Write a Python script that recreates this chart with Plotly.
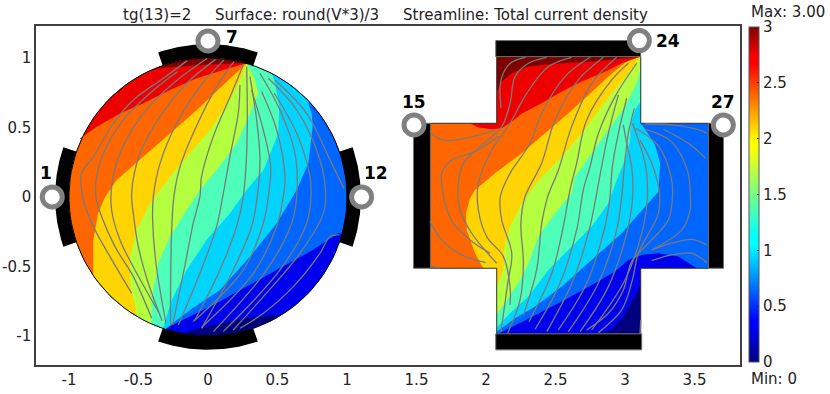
import numpy as np
import plotly.graph_objects as go

X_TICKS = [-1, -0.5, 0, 0.5, 1, 1.5, 2, 2.5, 3, 3.5]
X_TICK_TEXT = ["-1", "-0.5", "0", "0.5", "1", "1.5", "2", "2.5", "3", "3.5"]
Y_TICKS = [-1, -0.5, 0, 0.5, 1]
Y_TICK_TEXT = ["-1", "-0.5", "0", "0.5", "1"]
CB_TICKS = [0, 0.5, 1, 1.5, 2, 2.5, 3]
CB_TEXT = ["0", "0.5", "1", "1.5", "2", "2.5", "3"]

LEVEL_COLORS = ["#00007f", "#0000ee", "#0066ff", "#00d4ff", "#4dffb8", "#b3ff40", "#ffd400", "#ff6600", "#ee0000", "#7f0000"]
JET = [[0, "#00007f"], [0.11, "#0000ff"], [0.125, "#0000ff"], [0.35, "#00ffff"], [0.375, "#00ffff"],
       [0.64, "#ffff00"], [0.66, "#ffff00"], [0.89, "#ff0000"], [0.91, "#ff0000"], [1, "#7f0000"]]

# ---- iso-level boundaries on the disc (level 1/3 ... 3)
APEX_T = (0.278, 0.962)
APEX_B = (-0.30, -0.945)
DISC_1 = [(-0.153, -0.969), (0.038, -0.921), (0.206, -0.885), (0.35, -0.861), (0.494, -0.849)]
DISC_2 = [APEX_B, (-0.153, -0.873), (0.062, -0.765), (0.278, -0.645), (0.518, -0.513), (0.758, -0.38), (0.938, -0.26)]
DISC_3 = [APEX_B, (-0.13, -0.813), (0.086, -0.669), (0.302, -0.43), (0.494, -0.19), (0.638, 0.05), (0.722, 0.242),
          (0.753, 0.506), (0.746, 0.60), (0.722, 0.674)]
DISC_4 = [(-0.32, -0.93), (-0.26, -0.74), (-0.153, -0.525), (-0.01, -0.31), (0.158, -0.117), (0.278, 0.05), (0.40, 0.194),
          (0.506, 0.458), (0.513, 0.65), (0.482, 0.818), (0.46, 0.888)]
DISC_5 = [(-0.405, -0.92), (-0.405, -0.717), (-0.357, -0.477), (-0.273, -0.285), (-0.153, -0.094), (-0.058, 0.05),
          (0.062, 0.194), (0.206, 0.386), (0.302, 0.60), (0.362, 0.746), (0.33, 0.866), APEX_T]
DISC_6 = [(-0.513, -0.837), (-0.56, -0.62), (-0.56, -0.43), (-0.513, -0.237), (-0.417, -0.046), (-0.273, 0.146),
          (-0.13, 0.314), (0.014, 0.482), (0.158, 0.698), (0.23, 0.84), APEX_T]
DISC_7 = [(-0.825, -0.55), (-0.825, -0.31), (-0.79, -0.117), (-0.74, 0.0), (-0.657, 0.122), (-0.49, 0.266),
          (-0.273, 0.458), (-0.08, 0.626), (0.11, 0.806), APEX_T]
DISC_8 = [(-0.92, 0.42), (-0.80, 0.506), (-0.633, 0.60), (-0.465, 0.674), (-0.273, 0.77), (-0.08, 0.854), (0.11, 0.914), APEX_T]
DISC_9 = [(-0.357, 0.926), (-0.20, 0.94), (-0.03, 0.95), (0.16, 0.96), APEX_T]
DISC_LEVELS = [DISC_1, DISC_2, DISC_3, DISC_4, DISC_5, DISC_6, DISC_7, DISC_8, DISC_9]

# ---- iso-level boundaries on the cross
CROSS_XS = [1.6, 2.077, 3.113, 3.6]
CROSS_YS = [-0.985, -0.513, 0.53, 1.01]
CROSS_APEX = (3.113, 1.01)
CROSS_1 = [(2.796, -0.985), (2.904, -0.957), (2.988, -0.861), (3.048, -0.753), (3.113, -0.633)]
CROSS_2 = [(2.09, -0.985), (2.305, -0.873), (2.545, -0.753), (2.784, -0.621), (2.928, -0.537), (3.024, -0.453),
           (3.12, -0.417), (3.24, -0.405), (3.384, -0.429), (3.515, -0.513)]
CROSS_3 = [(2.077, -0.969), (2.209, -0.873), (2.353, -0.789), (2.545, -0.645), (2.76, -0.453), (2.976, -0.261),
           (3.144, -0.07), (3.24, 0.038), (3.252, 0.242), (3.216, 0.374), (3.156, 0.47), (3.113, 0.53)]
CROSS_4 = [(2.077, -0.938), (2.185, -0.825), (2.305, -0.717), (2.449, -0.525), (2.593, -0.381), (2.76, -0.213),
           (2.88, -0.046), (2.94, 0.122), (3.0, 0.266), (3.036, 0.41), (3.043, 0.53), (3.072, 0.626), (3.113, 0.686)]
CROSS_5 = [(2.077, -0.849), (2.16, -0.729), (2.232, -0.621), (2.305, -0.477), (2.377, -0.285), (2.497, -0.118),
           (2.617, 0.026), (2.64, 0.146), (2.76, 0.314), (2.88, 0.482), (3.0, 0.65), (3.084, 0.818), (3.113, 0.914)]
CROSS_6 = [(2.077, -0.645), (2.125, -0.525), (2.132, -0.357), (2.173, -0.213), (2.269, -0.022), (2.40, 0.146),
           (2.545, 0.29), (2.689, 0.458), (2.809, 0.626), (2.928, 0.77), (3.024, 0.89), CROSS_APEX]
CROSS_7 = [(1.98, -0.513), (1.921, -0.405), (1.861, -0.237), (1.856, -0.118), (1.885, -0.01), (1.921, 0.05), (2.065, 0.17),
           (2.257, 0.314), (2.425, 0.458), (2.593, 0.602), (2.737, 0.734), (2.881, 0.866), (3.024, 0.986), CROSS_APEX]
CROSS_8 = [(1.885, 0.53), (1.945, 0.50), (2.04, 0.487), (2.113, 0.494), (2.185, 0.542), (2.257, 0.60), (2.40, 0.674),
           (2.545, 0.758), (2.689, 0.83), (2.833, 0.89), (2.977, 0.962), CROSS_APEX]
CROSS_9 = [(2.077, 0.758), (2.113, 0.83), (2.185, 0.89), (2.305, 0.938), (2.545, 0.962), (2.785, 0.974), CROSS_APEX]
CROSS_LEVELS = [
    (CROSS_1, [(3.6, -0.633), (3.6, 1.01), (1.6, 1.01), (1.6, -0.985)]),
    (CROSS_2, [(3.6, -0.513), (3.6, 1.01), (1.6, 1.01), (1.6, -0.985)]),
    (CROSS_3, [CROSS_APEX, (1.6, 1.01), (1.6, -0.969)]),
    (CROSS_4, [CROSS_APEX, (1.6, 1.01), (1.6, -0.938)]),
    (CROSS_5, [CROSS_APEX, (1.6, 1.01), (1.6, -0.849)]),
    (CROSS_6, [(1.6, 1.01), (1.6, -0.645)]),
    (CROSS_7, [(1.6, 1.01), (1.6, -0.513)]),
    (CROSS_8, [(1.885, 1.01)]),
    (CROSS_9, [(2.077, 1.01)]),
]

# ---- streamlines on the disc
DISC_STREAMS = [
    [(-.149, .981), (-.321, .854), (-.537, .698), (-.681, .53), (-.825, .29), (-.909, .17), (-.909, .05), (-.897, -.022), (-.825, -.213), (-.705, -.429), (-.549, -.693)],
    [(-.218, .902), (-.417, .746), (-.609, .554), (-.741, .338), (-.801, .146), (-.806, .002), (-.765, -.141), (-.669, -.357), (-.537, -.573), (-.405, -.873)],
    [(-.005, .998), (-.249, .818), (-.465, .602), (-.633, .314), (-.693, .074), (-.693, -.094), (-.633, -.309), (-.525, -.525), (-.357, -.825)],
    [(.055, .99), (-.153, .818), (-.345, .578), (-.489, .314), (-.549, .026), (-.537, -.118), (-.501, -.357), (-.429, -.621), (-.33, -.89)],
    [(.115, .986), (-.058, .794), (-.225, .53), (-.345, .242), (-.393, .002), (-.398, -.165), (-.374, -.477), (-.302, -.909)],
    [(.187, .974), (.062, .794), (-.106, .458), (-.201, .218), (-.245, .002), (-.261, -.237), (-.269, -.669), (-.269, -.921)],
    [(.254, .95), (.17, .746), (.038, .434), (-.046, .146), (-.058, .002), (-.106, -.189), (-.177, -.549), (-.254, -.921)],
    [(.23, .806), (.218, .602), (.158, .29), (.106, .002), (.062, -.213), (-.058, -.549), (-.213, -.921)],
    [(.278, .938), (.283, .602), (.278, .314), (.254, .002), (.206, -.213), (.086, -.525), (-.094, -.885)],
    [(.302, .866), (.35, .554), (.374, .266), (.355, .002), (.314, -.213), (.182, -.525), (-.046, -.945)],
    [(.314, .77), (.398, .482), (.451, .218), (.434, .002), (.398, -.189), (.254, -.525), (-.106, -.897)],
    [(.386, .758), (.494, .482), (.554, .146), (.542, .002), (.494, -.213), (.326, -.549), (-.046, -.938)],
    [(.374, .89), (.518, .626), (.626, .314), (.638, .002), (.602, -.189), (.422, -.525), (.038, -.969)],
    [(.477, .746), (.638, .458), (.734, .146), (.741, .002), (.71, -.189), (.518, -.525), (.11, -.969)],
    [(.434, .854), (.638, .626), (.806, .266), (.847, .002), (.83, -.118), (.662, -.405), (.398, -.717), (.182, -.957)],
    [(.482, .842), (.71, .602), (.878, .266), (.978, .062)],
    [(.945, -.273), (.878, -.285), (.806, -.405), (.614, -.645), (.398, -.837), (.23, -.945)],
]

# ---- streamlines on the cross
CROSS_STREAMS = [
    [(1.597, .47), (1.669, .415), (1.777, .41), (1.921, .439), (2.065, .482)],
    [(2.093, .439), (1.921, .326), (1.753, .266), (1.681, .17), (1.688, .05), (1.705, -.046), (1.765, -.189), (1.885, -.309), (2.029, -.405)],
    [(2.285, 1.005), (2.173, .961), (2.108, .842), (2.108, .638)],
    [(2.436, 1.005), (2.305, .962), (2.209, .866), (2.173, .674), (2.113, .506), (1.957, .362), (1.837, .242), (1.801, .098), (1.813, -.094), (1.897, -.261), (2.077, -.477)],
    [(2.616, 1.005), (2.449, .938), (2.293, .746), (2.173, .53), (2.041, .338), (1.945, .098), (1.945, -.094), (2.005, -.285), (2.125, -.429), (2.173, -.645), (2.173, -.777)],
    [(2.748, 1.005), (2.568, .866), (2.4, .602), (2.317, .386), (2.173, .17), (2.103, .002), (2.113, -.165), (2.185, -.405), (2.156, -.621), (2.108, -.969)],
    [(2.844, 1.005), (2.664, .842), (2.496, .554), (2.4, .242), (2.281, .002), (2.251, -.189), (2.269, -.477), (2.245, -.741), (2.156, -.981)],
    [(2.94, 1.005), (2.76, .818), (2.616, .506), (2.521, .194), (2.444, .002), (2.401, -.189), (2.364, -.525), (2.269, -.849)],
    [(3.024, .962), (2.904, .842), (2.724, .554), (2.652, .242), (2.604, .05), (2.556, -.213), (2.473, -.549), (2.309, -.897)],
    [(3.084, .962), (2.928, .722), (2.809, .458), (2.748, .218), (2.7, .05), (2.652, -.237), (2.532, -.621), (2.353, -.952)],
    [(2.952, .734), (2.88, .458), (2.827, .194), (2.796, .026), (2.748, -.213), (2.628, -.597), (2.437, -.969)],
    [(3.012, .71), (2.952, .458), (2.909, .218), (2.892, .002), (2.856, -.213), (2.724, -.621), (2.52, -.957)],
    [(3.067, .638), (3.024, .458), (2.995, .218), (2.976, .002), (2.94, -.237), (2.808, -.621), (2.592, -.969)],
    [(2.988, .518), (3.012, .386), (3.048, .218), (3.055, .002), (3.024, -.213), (2.88, -.645), (2.676, -.969)],
    [(3.053, .53), (3.096, .41), (3.149, .218), (3.161, .002), (3.132, -.213), (3.0, -.597), (2.76, -.957)],
    [(3.108, .41), (3.192, .242), (3.245, .05), (3.24, -.118), (3.096, -.405), (3.053, -.597), (2.976, -.813), (2.809, -.976)],
    [(3.077, .494), (3.239, .367), (3.331, .146), (3.341, .002), (3.312, -.165), (3.168, -.333), (3.048, -.465), (2.988, -.669), (2.88, -.837), (2.724, -.957)],
    [(3.149, .487), (3.335, .398), (3.451, .182), (3.47, .002), (3.468, -.094), (3.408, -.237), (3.2, -.376)],
    [(3.276, .487), (3.455, .386), (3.58, .278)],
    [(3.144, .525), (3.343, .518), (3.532, .482), (3.588, .458)],
    [(3.192, -.381), (3.336, -.333), (3.48, -.305), (3.588, -.345)],
    [(3.192, -.458), (3.336, -.417), (3.48, -.405), (3.588, -.472)],
    [(1.597, -.177), (1.681, -.309), (1.825, -.417), (1.998, -.472)],
    [(1.604, -.496), (1.669, -.513)],
    [(3.113, -.885), (3.108, -.985)],
]

# ---- electrodes and terminals
DISC_ELECTRODE_ANGLES = [90, 0, 180, 270]
ELECTRODE_HALF_DEG = 19
ELECTRODE_R = 1.10
CROSS_ELECTRODES = [
    (2.07, 3.113, 1.01, 1.125),
    (2.07, 3.12, -1.10, -0.985),
    (1.478, 1.6, -0.513, 0.53),
    (3.6, 3.708, -0.513, 0.53),
]
TERMINAL_NAMES = ["1", "7", "12", "15", "24", "27"]
TERMINAL_X = [-1.12, 0.0, 1.105, 1.482, 3.103, 3.707]
TERMINAL_Y = [0.0, 1.122, 0.0, 0.518, 1.125, 0.518]
TERMINAL_LABEL_X = [-1.165, 0.173, 1.209, 1.482, 3.309, 3.705]
TERMINAL_LABEL_Y = [0.173, 1.151, 0.173, 0.683, 1.122, 0.683]

FONT = "DejaVu Sans"
L, R, T, B = 36, 90, 26, 29
W, H = 830, 394


def poly(xs, ys, color, line=None):
    return go.Scatter(x=list(xs), y=list(ys), mode="lines", fill="toself", fillcolor=color,
                      line=dict(width=line[1], color=line[0]) if line else dict(width=0, color=color),
                      hoverinfo="skip", showlegend=False)


def rect(x0, x1, y0, y1, color, line=None):
    return poly([x0, x1, x1, x0, x0], [y0, y0, y1, y1, y0], color, line)


def arc(a0, a1, r=1.0):
    t = np.radians(np.linspace(a0, a1, 120))
    return r * np.cos(t), r * np.sin(t)


fig = go.Figure()

# disc electrodes
for ang in DISC_ELECTRODE_ANGLES:
    ox, oy = arc(ang - ELECTRODE_HALF_DEG, ang + ELECTRODE_HALF_DEG, ELECTRODE_R)
    ix, iy = arc(ang + ELECTRODE_HALF_DEG, ang - ELECTRODE_HALF_DEG, 0.98)
    fig.add_trace(poly(np.r_[ox, ix, ox[0]], np.r_[oy, iy, oy[0]], "#000000"))

# disc bands, painted low to high
cx, cy = arc(0, 360)
fig.add_trace(poly(cx, cy, LEVEL_COLORS[0]))
for lev, curve in enumerate(DISC_LEVELS, start=1):
    px = [p[0] for p in curve]
    py = [p[1] for p in curve]
    a_end = np.degrees(np.arctan2(py[-1], px[-1]))
    a_start = np.degrees(np.arctan2(py[0], px[0]))
    if a_start < a_end:
        a_start += 360
    ax, ay = arc(a_end, a_start)
    fig.add_trace(poly(np.r_[px, ax, px[0]], np.r_[py, ay, py[0]], LEVEL_COLORS[lev]))
fig.add_trace(go.Scatter(x=cx, y=cy, mode="lines", line=dict(color="#000000", width=1),
                         hoverinfo="skip", showlegend=False))

# cross bands, painted low to high
fig.add_trace(rect(CROSS_XS[0], CROSS_XS[3], CROSS_YS[0], CROSS_YS[3], LEVEL_COLORS[0]))
for lev, (curve, closing) in enumerate(CROSS_LEVELS, start=1):
    pts = list(curve) + list(closing) + [curve[0]]
    fig.add_trace(poly([p[0] for p in pts], [p[1] for p in pts], LEVEL_COLORS[lev]))

# white corners outside the cross
for x0, x1 in [(CROSS_XS[0] - 0.01, CROSS_XS[1]), (CROSS_XS[2], CROSS_XS[3] + 0.01)]:
    for y0, y1 in [(CROSS_YS[0] - 0.01, CROSS_YS[1]), (CROSS_YS[2], CROSS_YS[3] + 0.01)]:
        fig.add_trace(rect(x0, x1, y0, y1, "#ffffff"))

# cross outline edges
xa, xb, xc, xd = CROSS_XS
ya, yb, yc, yd = CROSS_YS
fig.add_trace(go.Scatter(x=[xb, xb, xa, xa, xb, xb, xc, xc, xd, xd, xc, xc, xb],
                         y=[ya, yb, yb, yc, yc, yd, yd, yc, yc, yb, yb, ya, ya],
                         mode="lines", line=dict(color="#303030", width=1), hoverinfo="skip", showlegend=False))

# cross electrodes
for x0, x1, y0, y1 in CROSS_ELECTRODES:
    fig.add_trace(rect(x0, x1, y0, y1, "#000000", ("#707070", 1)))

# streamlines
for s in DISC_STREAMS + CROSS_STREAMS:
    fig.add_trace(go.Scatter(x=[p[0] for p in s], y=[p[1] for p in s], mode="lines",
                             line=dict(color="#7a7a7a", width=1.3, shape="spline", smoothing=1),
                             hoverinfo="skip", showlegend=False))

# terminals
fig.add_trace(go.Scatter(x=TERMINAL_X, y=TERMINAL_Y, mode="markers",
                         marker=dict(size=20, color="#ffffff", line=dict(color="#808080", width=5)),
                         hoverinfo="skip", showlegend=False))
for name, x, y in zip(TERMINAL_NAMES, TERMINAL_LABEL_X, TERMINAL_LABEL_Y):
    fig.add_annotation(x=x, y=y, text=f"<b>{name}</b>", showarrow=False,
                       font=dict(family=FONT, size=17, color="#000000"))

# colour bar
fig.add_trace(go.Scatter(x=[0, 0], y=[0, 0], mode="markers", hoverinfo="skip", showlegend=False,
                         marker=dict(size=1, opacity=0, color=[0, 3], cmin=0, cmax=3, colorscale=JET, showscale=True,
                                     colorbar=dict(thickness=10, thicknessmode="pixels", len=335, lenmode="pixels",
                                                   x=(749 - L) / (W - L - R), xanchor="left", xpad=0,
                                                   y=(H - B - 27) / (H - T - B), yanchor="top", ypad=0,
                                                   tickvals=CB_TICKS, ticktext=CB_TEXT, ticks="inside", ticklen=2,
                                                   tickcolor="#222222", outlinecolor="#555555", outlinewidth=1,
                                                   tickfont=dict(family=FONT, size=15, color="#222222")))))

PW, PH = W - L - R, H - T - B
texts = [("tg(13)=2", 122, 15), ("Surface: round(V*3)/3", 214, 15), ("Streamline: Total current density", 402, 15),
         ("Max: 3.00", 750, 12), ("Min: 0", 750, 379)]
for t, px, py in texts:
    fig.add_annotation(xref="paper", yref="paper", x=(px - L) / PW, y=(H - B - py) / PH, text=t, showarrow=False,
                       xanchor="left", yanchor="middle", xshift=-1, font=dict(family=FONT, size=15, color="#222222"))

axis_common = dict(showgrid=False, zeroline=False, showline=True, mirror=True, linecolor="#404040", linewidth=1.5,
                   ticks="", tickfont=dict(family=FONT, size=15, color="#222222"))
fig.update_layout(
    width=W, height=H, margin=dict(l=L, r=R, t=T, b=B, autoexpand=False), paper_bgcolor="#ffffff", plot_bgcolor="#ffffff",
    showlegend=False,
    xaxis=dict(range=[-1.237, 3.827], tickvals=X_TICKS, ticktext=X_TICK_TEXT, automargin=False, **axis_common),
    yaxis=dict(range=[-1.209, 1.23], tickvals=Y_TICKS, ticktext=Y_TICK_TEXT, automargin=False, **axis_common),
)
fig.write_html("out.html", config={"displayModeBar": False}, post_script="document.body.style.margin='0';")
